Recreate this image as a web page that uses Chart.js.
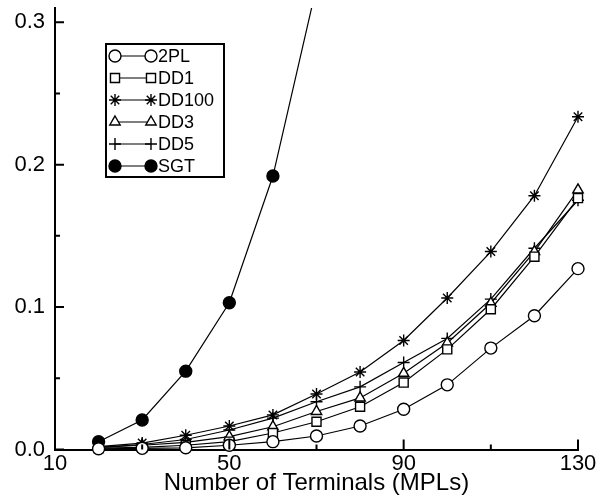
<!DOCTYPE html>
<html>
<head>
<meta charset="utf-8">
<script src="https://cdn.jsdelivr.net/npm/chart.js@4.4.1/dist/chart.umd.min.js"></script>
<style>
  html, body { margin: 0; padding: 0; background: #fff; }
  #wrap { width: 614px; height: 499px; }
</style>
</head>
<body>
<div id="wrap"><canvas id="chart"></canvas></div>
<script>
const terminals = [20, 30, 40, 50, 60, 70, 80, 90, 100, 110, 120, 130];
const sgtTerminals = [20, 30, 40, 50, 60, 70];

const val2PL = [0.0005, 0.0008, 0.0012, 0.003, 0.0055, 0.0095, 0.0165, 0.0283, 0.0454, 0.0712, 0.0939, 0.127];
const valDD1 = [0.001, 0.0015, 0.003, 0.0055, 0.0116, 0.0195, 0.030, 0.047, 0.0703, 0.0985, 0.1354, 0.1765];
const valDD100 = [0.002, 0.0045, 0.010, 0.0165, 0.0243, 0.039, 0.0544, 0.0765, 0.1064, 0.139, 0.1782, 0.2336];
const valDD3 = [0.0015, 0.003, 0.005, 0.009, 0.016, 0.0267, 0.0362, 0.0535, 0.0748, 0.1027, 0.139, 0.1823];
const valDD5 = [0.0015, 0.0035, 0.007, 0.0137, 0.022, 0.0335, 0.044, 0.0611, 0.078, 0.1056, 0.1413, 0.175];
const valSGT = [0.0055, 0.0207, 0.055, 0.103, 0.192, 0.325];

const xTicks = [10, 50, 90, 130];
const xMinorTicks = [30, 70, 110];
const yTicks = [0, 0.1, 0.2, 0.3];
const yMinorTicks = [0.05, 0.15, 0.25];

const FONT = "'Liberation Sans', Arial, sans-serif";

function pts(xs, ys) {
  return ys.map((y, i) => ({ x: xs[i], y: y }));
}

function series(label, xs, ys, style, fill) {
  return {
    label: label,
    data: pts(xs, ys),
    borderColor: "#000",
    borderWidth: 1.2,
    pointStyle: style,
    pointRadius: style === "rect" ? 6.4 : 6,
    pointBorderWidth: 1.4,
    pointBorderColor: "#000",
    pointBackgroundColor: fill,
    tension: 0,
    clip: false,
  };
}

// tick marks pointing into the plot + boxed legend
const decorations = {
  id: "decorations",
  afterDraw(chart) {
    const ctx = chart.ctx;
    const xs = chart.scales.x;
    const ys = chart.scales.y;
    const area = chart.chartArea;
    ctx.save();
    ctx.strokeStyle = "#000";
    ctx.lineWidth = 2;
    ctx.beginPath();
    xTicks.forEach((v) => {
      const px = xs.getPixelForValue(v);
      ctx.moveTo(px, area.bottom);
      ctx.lineTo(px, area.bottom - 10);
    });
    xMinorTicks.forEach((v) => {
      const px = xs.getPixelForValue(v);
      ctx.moveTo(px, area.bottom);
      ctx.lineTo(px, area.bottom - 5);
    });
    yTicks.forEach((v) => {
      const py = ys.getPixelForValue(v);
      ctx.moveTo(area.left, py);
      ctx.lineTo(area.left + 9, py);
    });
    yMinorTicks.forEach((v) => {
      const py = ys.getPixelForValue(v);
      ctx.moveTo(area.left, py);
      ctx.lineTo(area.left + 5, py);
    });
    ctx.stroke();

    // legend
    ctx.lineWidth = 2;
    ctx.strokeRect(106, 44, 118, 133);
    ctx.font = "18px " + FONT;
    ctx.textBaseline = "middle";
    ctx.textAlign = "left";
    chart.data.datasets.forEach((ds, i) => {
      const y = 56 + i * 22;
      ctx.strokeStyle = "#000";
      ctx.lineWidth = 1.2;
      ctx.beginPath();
      ctx.moveTo(115, y);
      ctx.lineTo(151, y);
      ctx.stroke();
      [115, 151].forEach((x) => {
        ctx.lineWidth = ds.pointBorderWidth;
        ctx.strokeStyle = "#000";
        ctx.fillStyle = ds.pointBackgroundColor;
        Chart.helpers.drawPoint(ctx, { pointStyle: ds.pointStyle, radius: ds.pointRadius, borderWidth: ds.pointBorderWidth }, x, y);
      });
      ctx.fillStyle = "#000";
      ctx.fillText(ds.label, 158, y + 1);
    });
    ctx.restore();
  },
};

const datasets = [
  series("2PL", terminals, val2PL, "circle", "#fff"),
  series("DD1", terminals, valDD1, "rect", "#fff"),
  series("DD100", terminals, valDD100, "star", "#fff"),
  series("DD3", terminals, valDD3, "triangle", "#fff"),
  series("DD5", terminals, valDD5, "cross", "#fff"),
  series("SGT", sgtTerminals, valSGT, "circle", "#000"),
];
// SGT runs off the top of the plot: clip it there only
datasets[5].clip = { top: 0, left: false, right: false, bottom: false };

new Chart(document.getElementById("chart"), {
  type: "line",
  data: { datasets: datasets },
  options: {
    responsive: true,
    maintainAspectRatio: false,
    animation: false,
    events: [],
    layout: {
      padding: { top: 8, right: 36, left: 0, bottom: 0 },
    },
    plugins: {
      legend: { display: false },
      tooltip: { enabled: false },
    },
    scales: {
      x: {
        type: "linear",
        min: 10,
        max: 130,
        afterBuildTicks: (scale) => {
          scale.ticks = xTicks.map((v) => ({ value: v }));
        },
        afterFit: (scale) => {
          scale.height = 49.5;
          scale.paddingLeft = 0;
          scale.paddingRight = 0;
        },
        grid: { display: true, drawOnChartArea: false, drawTicks: false },
        border: { display: true, color: "#000", width: 2 },
        ticks: {
          padding: 1,
          color: "#000",
          font: { family: FONT, size: 22 },
          maxRotation: 0,
          autoSkip: false,
          callback: (value) => String(value),
        },
        title: {
          display: true,
          text: "Number of Terminals (MPLs)",
          color: "#000",
          font: { family: FONT, size: 24 },
          padding: { top: 0, bottom: 1 },
        },
      },
      y: {
        type: "linear",
        min: 0,
        max: 0.31,
        afterBuildTicks: (scale) => {
          scale.ticks = yTicks.map((v) => ({ value: v }));
        },
        afterFit: (scale) => {
          scale.width = 55;
          scale.paddingTop = 0;
          scale.paddingBottom = 0;
        },
        grid: { display: true, drawOnChartArea: false, drawTicks: false },
        border: { display: true, color: "#000", width: 2 },
        ticks: {
          padding: 10,
          color: "#000",
          font: { family: FONT, size: 22 },
          callback: (value) => value.toFixed(1),
        },
      },
    },
  },
  plugins: [decorations],
});
</script>
</body>
</html>
